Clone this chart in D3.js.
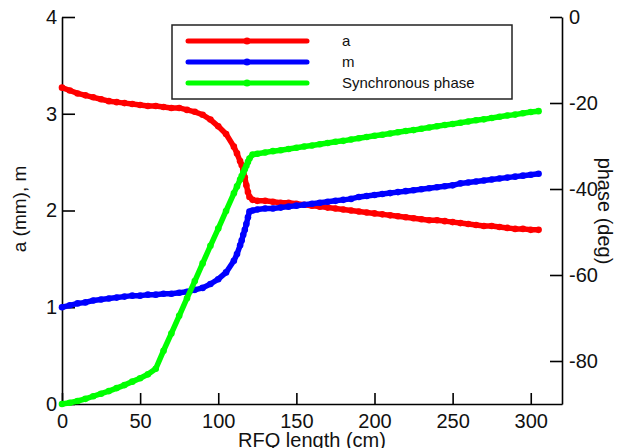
<!DOCTYPE html>
<html>
<head>
<meta charset="utf-8">
<script src="https://cdn.jsdelivr.net/npm/d3@7"></script>
<style>
  body { margin: 0; background: #fff; }
  svg { display: block; font-family: "Liberation Sans", Arial, sans-serif; }
</style>
</head>
<body>
<script>
// RFQ length (cm)
var lengthCm = [0,5,10,15,20,25,30,35,40,45,50,55,60,65,70,75,80,85,90,95,100,105,110,
  112,114,115,116,117,118,119,120,122,
  125,130,135,140,145,150,155,160,165,170,175,180,185,190,195,200,205,210,215,220,
  225,230,235,240,245,250,255,260,265,270,275,280,285,290,295,300,305]

// a (mm)
var aVals = [3.27,3.24,3.21,3.19,3.17,3.15,3.13,3.12,3.11,3.10,3.09,3.08,3.08,3.07,3.06,3.06,3.04,3.02,2.99,2.94,2.87,2.79,2.66,
  2.59,2.51,2.47,2.42,2.34,2.26,2.19,2.14,2.11,
  2.10,2.10,2.09,2.08,2.08,2.07,2.06,2.05,2.04,2.03,2.02,2.01,2.00,1.99,1.98,1.97,1.96,1.95,1.94,1.93,
  1.92,1.91,1.90,1.90,1.89,1.88,1.87,1.86,1.85,1.84,1.84,1.83,1.82,1.81,1.81,1.80,1.80]

// m
var mVals = [1.00,1.02,1.04,1.05,1.07,1.08,1.09,1.10,1.11,1.12,1.12,1.13,1.13,1.14,1.14,1.15,1.16,1.18,1.20,1.24,1.29,1.36,1.48,
  1.55,1.64,1.69,1.75,1.80,1.86,1.93,1.99,2.00,
  2.01,2.02,2.02,2.03,2.04,2.05,2.06,2.07,2.08,2.09,2.10,2.11,2.12,2.14,2.15,2.16,2.17,2.18,2.19,2.20,
  2.21,2.22,2.23,2.24,2.25,2.26,2.28,2.29,2.30,2.31,2.32,2.33,2.34,2.35,2.36,2.37,2.38]

// synchronous phase (deg)
var phaseVals = [-90,-89.7,-89.3,-88.8,-88.2,-87.6,-87.0,-86.3,-85.6,-84.8,-84.0,-83.1,-81.8,-77.6,-73.6,-69.5,-65.4,-61.4,-57.3,-53.2,-49.2,-45.1,-41.0,
  -39.4,-37.8,-37.0,-36.2,-35.4,-34.6,-33.7,-32.9,-32.0,
  -31.8,-31.5,-31.2,-31.0,-30.7,-30.4,-30.1,-29.9,-29.6,-29.3,-29.0,-28.8,-28.5,-28.2,-27.9,-27.6,-27.4,-27.1,-26.8,-26.5,
  -26.3,-26.0,-25.7,-25.4,-25.1,-24.9,-24.6,-24.3,-24.0,-23.8,-23.5,-23.2,-22.9,-22.7,-22.4,-22.1,-21.9]

var xTicks = [0,50,100,150,200,250,300]
var yLeftTicks = [0,1,2,3,4]
var yRightTicks = [0,-20,-40,-60,-80]
var legendNames = ["a", "m", "Synchronous phase"]
var colors = ["#ff0000", "#0000ff", "#00ff00"]

var W = 619, H = 448
var margin = {top: 17, left: 62, right: 57, bottom: 44}
var w = W - margin.left - margin.right
var h = H - margin.top - margin.bottom

var svg = d3.select("body").append("svg").attr("width", W).attr("height", H)
var g = svg.append("g").attr("transform", "translate(" + margin.left + "," + margin.top + ")")

var x = d3.scaleLinear().domain([0, 320]).range([0, w])
var yL = d3.scaleLinear().domain([0, 4]).range([h, 0])
var yR = d3.scaleLinear().domain([-90, 0]).range([h, 0])

// axes
var xAxis = g.append("g").attr("transform", "translate(0," + h + ")")
  .call(d3.axisBottom(x).tickValues(xTicks).tickFormat(d3.format("d"))
    .tickSize(-11).tickPadding(10).tickSizeOuter(0))
var leftAxis = g.append("g")
  .call(d3.axisLeft(yL).tickValues(yLeftTicks).tickFormat(d3.format("d"))
    .tickSize(-13).tickPadding(5).tickSizeOuter(0))
var rightAxis = g.append("g").attr("transform", "translate(" + w + ",0)")
  .call(d3.axisRight(yR).tickValues(yRightTicks).tickSize(-12).tickPadding(7).tickSizeOuter(0))

;[xAxis, leftAxis, rightAxis].forEach(function(a) {
  a.selectAll("path").attr("stroke", "#000").attr("stroke-width", 1.6)
  a.selectAll("line").attr("stroke", "#000").attr("stroke-width", 1.6)
  a.selectAll("text").attr("fill", "#111").style("font-size", "20px")
    .style("font-family", "'Liberation Sans', Arial, sans-serif")
})
rightAxis.selectAll("text").text(function(d) { return d === 0 ? "0" : "-" + Math.abs(d) })

// axis titles
svg.append("text").attr("x", margin.left + x(160)).attr("y", 447)
  .attr("text-anchor", "middle").style("font-size", "20px").attr("fill", "#111")
  .text("RFQ length (cm)")
svg.append("text").attr("transform", "translate(26,209) rotate(-90)")
  .attr("text-anchor", "middle").style("font-size", "19px").attr("fill", "#111")
  .text("a (mm), m")
svg.append("text").attr("transform", "translate(598,211) rotate(90)")
  .attr("text-anchor", "middle").style("font-size", "20px").attr("fill", "#111")
  .text("phase (deg)")

// series
var series = [
  {vals: aVals, y: yL},
  {vals: mVals, y: yL},
  {vals: phaseVals, y: yR}
]

series.forEach(function(s, i) {
  var pts = lengthCm.map(function(d, j) { return [d, s.vals[j]] })
  var line = d3.line().x(function(d) { return x(d[0]) }).y(function(d) { return s.y(d[1]) })
  g.append("path").datum(pts).attr("d", line)
    .attr("fill", "none").attr("stroke", colors[i]).attr("stroke-width", 5.5)
    .attr("stroke-linejoin", "round").attr("stroke-linecap", "round")
  g.selectAll(".dot" + i).data(pts).enter().append("circle")
    .attr("cx", function(d) { return x(d[0]) })
    .attr("cy", function(d) { return s.y(d[1]) })
    .attr("r", 3.3).attr("fill", colors[i])
})

// legend
var leg = svg.append("g")
leg.append("rect").attr("x", 172).attr("y", 25).attr("width", 340).attr("height", 74)
  .attr("fill", "#fff").attr("stroke", "#222").attr("stroke-width", 1.5)
legendNames.forEach(function(name, i) {
  var yy = 41 + i * 21
  leg.append("line").attr("x1", 188).attr("x2", 307).attr("y1", yy).attr("y2", yy)
    .attr("stroke", colors[i]).attr("stroke-width", 5).attr("stroke-linecap", "round")
  leg.append("circle").attr("cx", 247).attr("cy", yy).attr("r", 3.5).attr("fill", colors[i])
  leg.append("text").attr("x", 342).attr("y", yy + 5).style("font-size", "15px").attr("fill", "#111")
    .text(name)
})
</script>
</body>
</html>
